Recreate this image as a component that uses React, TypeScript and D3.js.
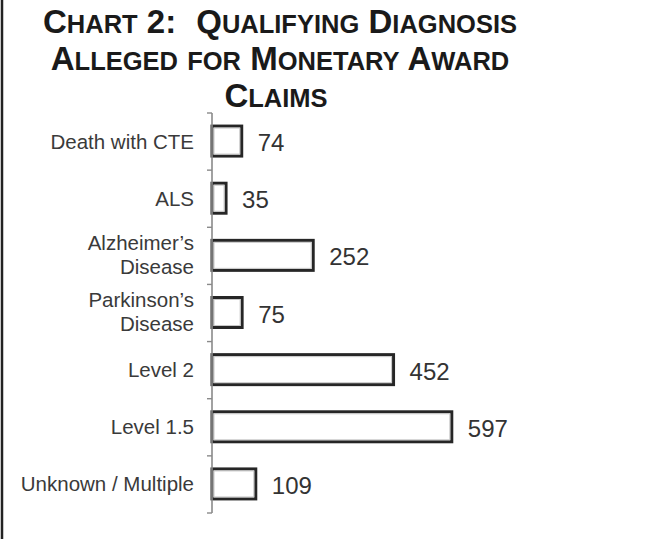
import React from "react";
import * as d3 from "d3";

const categories = ["Death with CTE", "ALS", "Alzheimer’s Disease", "Parkinson’s Disease", "Level 2", "Level 1.5", "Unknown / Multiple"];
const categoryLines = [["Death with CTE"], ["ALS"], ["Alzheimer’s", "Disease"], ["Parkinson’s", "Disease"], ["Level 2"], ["Level 1.5"], ["Unknown / Multiple"]];
const values = [74, 35, 252, 75, 452, 597, 109];
const titleLines = ["Chart 2:  Qualifying Diagnosis", "Alleged for Monetary Award", "Claims"];

const W = 649;
const H = 539;
const FONT = "'Liberation Sans', Arial, Helvetica, sans-serif";

function smallCaps(line: string, big: number, small: number) {
  const segments = line.split("  ");
  const out: React.ReactNode[] = [];
  segments.forEach((seg, si) => {
    const parts: { t: string; big: boolean }[] = [];
    for (const ch of seg) {
      const isBig = !(ch >= "a" && ch <= "z");
      const last = parts[parts.length - 1];
      if (last && last.big === isBig) last.t += ch;
      else parts.push({ t: ch, big: isBig });
    }
    parts.forEach((p, i) => {
      out.push(
        <tspan key={si + "-" + i} dx={si > 0 && i === 0 ? 20 : undefined} fontSize={p.big ? big : small}>
          {p.big ? p.t : p.t.toUpperCase()}
        </tspan>
      );
    });
  });
  return out;
}

export default function App() {
  const x = d3.scaleLinear().domain([0, 600]).range([212, 453]);
  const y = d3.scaleBand<string>().domain(categories).range([113, 513]).paddingInner(0.475).paddingOuter(0.2375);
  const step = y.step();
  const axisX = x(0);
  const boundaries = d3.range(categories.length + 1).map((i) => 113 + i * step);
  const titleX = [280, 280, 276];

  return (
    <svg width={W} height={H} style={{ position: "absolute", left: 0, top: 0, background: "#fff" }}>
      <rect x={0} y={0} width={W} height={H} fill="#fff" />
      <line x1={2} x2={2} y1={0} y2={H} stroke="#222" strokeWidth={2.5} />
      <g fontFamily={FONT} fontWeight="bold" fill="#1a1a1a" textAnchor="middle">
        {titleLines.map((l, i) => (
          <text key={i} x={titleX[i]} y={33 + i * 37}>{smallCaps(l, 33, 25.5)}</text>
        ))}
      </g>
      {categories.map((c, i) => {
        const cy = (y(c) as number) + y.bandwidth() / 2 - 0.5;
        const x1 = x(values[i]);
        return (
          <g key={c}>
            <rect x={axisX} y={cy - y.bandwidth() / 2} width={x1 - axisX} height={y.bandwidth()} fill="#fff" stroke="#262626" strokeWidth={3} />
            <rect x={axisX + 2} y={cy - y.bandwidth() / 2 + 2} width={Math.max(0, x1 - axisX - 4)} height={y.bandwidth() - 4} fill="none" stroke="#c8c8c8" strokeWidth={1} />
            <text x={x1 + 16} y={cy + 10} fontFamily={FONT} fontSize={24} fill="#333">{values[i]}</text>
          </g>
        );
      })}
      <line x1={axisX} x2={axisX} y1={113} y2={513} stroke="#8a8a8a" strokeWidth={1.6} />
      {boundaries.map((b, i) => (
        <line key={i} x1={axisX - 5} x2={axisX} y1={b} y2={b} stroke="#8a8a8a" strokeWidth={1.4} />
      ))}
      {categories.map((c, i) => {
        const cy = (y(c) as number) + y.bandwidth() / 2;
        const lines = categoryLines[i];
        return (
          <text key={c} x={194} textAnchor="end" fontFamily={FONT} fontSize={20.5} fill="#3a3a3a">
            {lines.length === 1 ? (
              <tspan x={194} y={cy + 7}>{lines[0]}</tspan>
            ) : (
              lines.map((l, j) => (
                <tspan key={j} x={194} y={cy - 6 + j * 24}>{l}</tspan>
              ))
            )}
          </text>
        );
      })}
    </svg>
  );
}
